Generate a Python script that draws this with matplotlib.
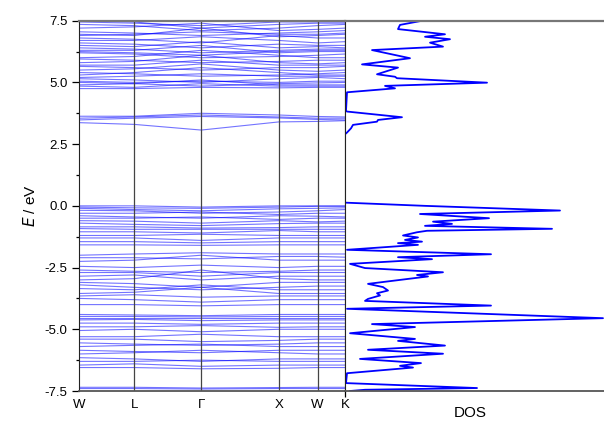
## band structure and DOS
import numpy as np
from matplotlib import pyplot as plt

plt.rcParams['font.family'] = ['Liberation Sans', 'DejaVu Sans']
plt.rcParams['axes.unicode_minus'] = False

## high symmetry points (distance along path, fcc units)
kpos = [0.0, 0.707, 1.573, 2.573, 3.073, 3.427]
klabels = ['W', 'L', '\u0393', 'X', 'W', 'K']

## band energies at W, L, G, X, W, K
cond_upper = [
    [7.50, 7.45, 7.20, 7.35, 7.40, 7.40],
    [7.45, 7.40, 7.30, 7.45, 7.45, 7.45],
    [7.35, 7.30, 7.10, 7.20, 7.30, 7.35],
    [7.20, 7.25, 7.40, 7.10, 7.15, 7.20],
    [7.05, 7.00, 6.90, 7.00, 7.05, 7.10],
    [6.95, 6.90, 7.20, 6.85, 6.90, 6.95],
    [6.90, 6.95, 7.05, 6.95, 6.95, 7.00],
    [6.80, 6.75, 6.60, 6.90, 6.80, 6.80],
    [6.70, 6.70, 6.85, 6.70, 6.60, 6.65],
    [6.60, 6.55, 6.40, 6.55, 6.50, 6.50],
    [6.50, 6.45, 6.65, 6.40, 6.45, 6.40],
    [6.40, 6.35, 6.20, 6.30, 6.35, 6.35],
    [6.30, 6.30, 6.50, 6.20, 6.25, 6.25],
    [6.25, 6.20, 6.10, 6.25, 6.30, 6.30],
    [6.20, 6.15, 6.00, 6.05, 6.10, 6.15],
    [6.00, 6.05, 6.30, 6.10, 6.00, 6.00],
    [5.95, 5.90, 5.80, 5.85, 5.90, 5.90],
    [5.80, 5.85, 6.10, 5.80, 5.75, 5.80],
    [5.70, 5.70, 5.90, 5.70, 5.70, 5.70],
    [5.65, 5.60, 5.50, 5.60, 5.60, 5.65],
    [5.50, 5.55, 5.75, 5.50, 5.45, 5.50],
    [5.40, 5.35, 5.25, 5.30, 5.35, 5.40],
    [5.30, 5.40, 5.60, 5.40, 5.30, 5.30],
    [5.20, 5.25, 5.35, 5.25, 5.25, 5.25],
    [5.15, 5.10, 5.00, 5.15, 5.20, 5.15],
    [5.05, 5.00, 5.05, 5.00, 5.05, 5.05],
    [5.00, 4.95, 4.85, 4.95, 4.98, 5.00],
    [4.90, 4.95, 5.10, 4.90, 4.90, 4.90],
    [4.85, 4.80, 4.95, 4.85, 4.85, 4.85],
    [4.75, 4.75, 4.80, 4.78, 4.80, 4.80],
]
cond_lower = [
    [3.63, 3.63, 3.75, 3.68, 3.62, 3.60],
    [3.55, 3.60, 3.68, 3.60, 3.55, 3.55],
    [3.48, 3.55, 3.62, 3.56, 3.50, 3.48],
    [3.37, 3.30, 3.07, 3.40, 3.42, 3.45],
]
val_top = [
    [0.00, 0.00, -0.05, 0.00, 0.00, 0.00],
    [-0.05, -0.08, -0.10, -0.05, -0.02, -0.02],
    [-0.10, -0.15, -0.20, -0.12, -0.10, -0.08],
    [-0.18, -0.20, -0.30, -0.25, -0.20, -0.15],
    [-0.30, -0.30, -0.25, -0.35, -0.30, -0.30],
    [-0.40, -0.45, -0.50, -0.40, -0.42, -0.45],
    [-0.50, -0.50, -0.45, -0.55, -0.50, -0.50],
    [-0.60, -0.62, -0.70, -0.60, -0.65, -0.62],
    [-0.70, -0.75, -0.80, -0.72, -0.70, -0.70],
    [-0.85, -0.85, -0.90, -0.88, -0.85, -0.85],
    [-0.92, -0.95, -0.95, -0.95, -0.95, -0.95],
    [-1.05, -1.05, -1.10, -1.00, -1.05, -1.05],
    [-1.20, -1.20, -1.15, -1.20, -1.20, -1.20],
    [-1.30, -1.30, -1.40, -1.30, -1.30, -1.30],
    [-1.45, -1.45, -1.50, -1.45, -1.45, -1.45],
    [-1.58, -1.58, -1.60, -1.58, -1.58, -1.58],
]
val_mid = [
    [-2.00, -1.95, -1.90, -1.95, -1.95, -1.95],
    [-2.10, -2.10, -2.15, -2.05, -2.05, -2.08],
    [-2.25, -2.20, -2.00, -2.20, -2.20, -2.20],
    [-2.45, -2.50, -2.40, -2.50, -2.45, -2.45],
    [-2.60, -2.65, -2.70, -2.65, -2.60, -2.60],
    [-2.70, -2.70, -2.85, -2.70, -2.70, -2.70],
    [-2.85, -2.80, -3.00, -2.85, -2.85, -2.85],
    [-3.00, -2.95, -2.60, -2.95, -3.00, -3.00],
    [-3.10, -3.15, -3.30, -3.10, -3.10, -3.10],
    [-3.20, -3.30, -3.40, -3.30, -3.25, -3.25],
    [-3.35, -3.40, -3.20, -3.40, -3.40, -3.40],
    [-3.55, -3.50, -3.30, -3.55, -3.55, -3.55],
    [-3.65, -3.60, -3.70, -3.65, -3.65, -3.65],
    [-3.75, -3.80, -3.90, -3.80, -3.80, -3.80],
    [-4.00, -4.00, -4.05, -4.00, -4.00, -4.00],
]
val_low = [
    [-4.40, -4.42, -4.45, -4.40, -4.40, -4.40],
    [-4.48, -4.48, -4.50, -4.48, -4.48, -4.48],
    [-4.55, -4.55, -4.55, -4.55, -4.55, -4.55],
    [-4.62, -4.60, -4.65, -4.62, -4.62, -4.62],
    [-4.75, -4.75, -4.80, -4.75, -4.75, -4.75],
    [-4.90, -4.90, -4.85, -4.92, -4.90, -4.90],
    [-5.05, -5.00, -5.10, -5.00, -5.00, -5.00],
    [-5.30, -5.30, -5.20, -5.30, -5.30, -5.30],
    [-5.40, -5.40, -5.50, -5.45, -5.40, -5.40],
    [-5.55, -5.60, -5.65, -5.60, -5.55, -5.55],
    [-5.70, -5.65, -5.60, -5.70, -5.70, -5.70],
    [-5.85, -5.90, -5.95, -5.85, -5.85, -5.85],
    [-6.00, -5.95, -5.85, -5.95, -6.00, -6.00],
    [-6.15, -6.20, -6.30, -6.20, -6.20, -6.20],
    [-6.30, -6.30, -6.25, -6.30, -6.30, -6.30],
    [-6.45, -6.40, -6.50, -6.45, -6.45, -6.45],
    [-6.55, -6.55, -6.60, -6.58, -6.55, -6.55],
    [-7.35, -7.35, -7.38, -7.36, -7.35, -7.35],
    [-7.40, -7.40, -7.42, -7.40, -7.40, -7.40],
]

## density of states (energy, dos)
dos_E = [7.50, 7.49, 7.33, 7.16, 6.95, 6.85, 6.75, 6.61, 6.45, 6.31, 5.98,
         5.73, 5.60, 5.33, 5.23, 5.17, 4.99, 4.86, 4.76, 4.60, 3.85, 3.82,
         3.59, 3.48, 3.41, 3.28, 3.14, 2.97, 2.90, 0.13, 0.00, -0.19, -0.33,
         -0.50, -0.64, -0.73, -0.81, -0.93, -1.01, -1.07, -1.20, -1.28,
         -1.38, -1.45, -1.51, -1.58, -1.78, -1.96, -2.08, -2.16, -2.35,
         -2.52, -2.69, -2.80, -2.86, -3.16, -3.29, -3.43, -3.54, -3.63,
         -3.77, -3.85, -4.04, -4.17, -4.55, -4.79, -4.91, -5.16, -5.39,
         -5.47, -5.66, -5.83, -5.99, -6.20, -6.37, -6.48, -6.55, -6.78,
         -7.18, -7.38, -7.45, -7.50]
dos_val = [78, 76, 55, 53, 100, 80, 105, 85, 98, 27, 65,
           17, 53, 32, 50, 52, 142, 40, 50, 2, 1, 2,
           57, 33, 32, 8, 6, 2, 0, 0, 80, 215, 75,
           144, 88, 107, 80, 207, 82, 72, 58, 73,
           60, 77, 53, 73, 2, 146, 53, 87, 5,
           20, 98, 72, 83, 23, 38, 43, 32, 35,
           23, 20, 146, 2, 258, 27, 70, 5, 70,
           53, 100, 23, 98, 15, 76, 55, 68, 2,
           1, 132, 20, 5]

fig = plt.figure(figsize=(6.04, 4.23), dpi=100)
axb = fig.add_axes([79.3/604, 1-391/423, (345-79.3)/604, (391-20.7)/423])
axd = fig.add_axes([345/604, 1-391/423, (604-345)/604, (391-20.7)/423])

blue = '#0000ff'
for band in cond_upper + cond_lower + val_top + val_mid + val_low:
    axb.plot(kpos, band, color=blue, lw=0.8, alpha=0.55)

for k in kpos[1:-1]:
    axb.axvline(k, color='#444444', lw=0.9)

axb.set_xlim(kpos[0], kpos[-1])
axb.set_ylim(-7.5, 7.5)
axb.set_xticks(kpos)
axb.set_xticklabels(klabels, fontsize=9.5)
axb.set_yticks([7.5, 5.0, 2.5, 0.0, -2.5, -5.0, -7.5])
axb.set_yticklabels(['7.5', '5.0', '2.5', '0.0', '-2.5', '-5.0', '-7.5'], fontsize=9.5)
axb.set_yticks(np.arange(-6.25, 7.5, 2.5), minor=True)
axb.tick_params(axis='y', which='major', direction='out', length=5, width=0.9)
axb.tick_params(axis='y', which='minor', direction='out', length=2.5, width=0.9)
axb.tick_params(axis='x', length=0, pad=6)
axb.set_ylabel('$E$ / eV', fontsize=11, labelpad=5)
axb.spines['top'].set_color('#777777')
axb.spines['top'].set_linewidth(1.6)
axb.spines['bottom'].set_color('#555555')
axb.spines['bottom'].set_linewidth(1.3)
axb.spines['left'].set_color('#222222')
axb.spines['right'].set_color('#222222')

axd.plot(dos_val, dos_E, color=blue, lw=1.3)
axd.set_xlim(0, 259)
axd.set_ylim(-7.5, 7.5)
axd.set_yticks([])
axd.set_xticks([0])
axd.set_xticklabels([''])
axd.tick_params(axis='x', direction='out', length=4, width=0.9)
axd.spines['top'].set_color('#777777')
axd.spines['top'].set_linewidth(1.6)
axd.spines['bottom'].set_color('#555555')
axd.spines['bottom'].set_linewidth(1.3)
axd.spines['left'].set_color('#222222')
axd.spines['right'].set_visible(False)
fig.text(470/604, 1-413/423, 'DOS', ha='center', va='center', fontsize=11)

plt.savefig('out.png', dpi=100)
